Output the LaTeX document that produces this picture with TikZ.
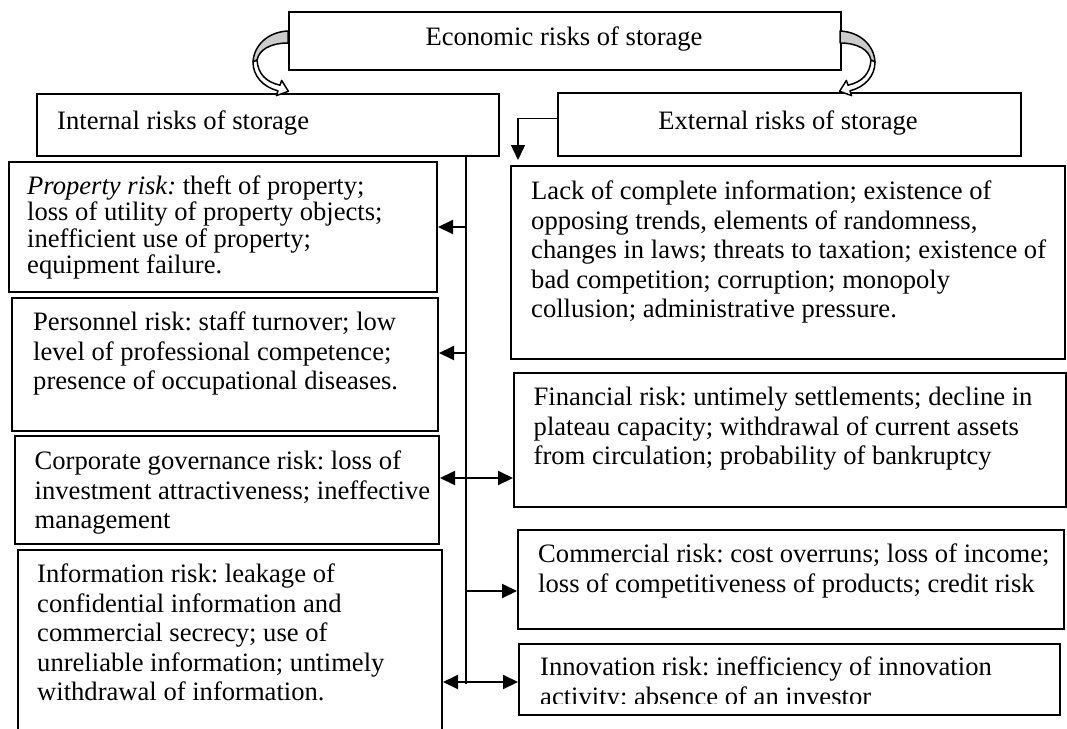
\documentclass[tikz,border=0pt]{standalone}
\usepackage{fontspec}
\setmainfont{Liberation Serif}
\usetikzlibrary{arrows.meta}
\newcommand{\topstrut}{\rule{0pt}{18pt}}
\begin{document}
\frenchspacing
\begin{tikzpicture}[x=1pt,y=-1pt,
  box/.style={draw, line width=2pt, inner sep=0pt, anchor=north west},
  title/.style={inner sep=0pt, font=\fontsize{26.6}{29.5}\selectfont},
  txt/.style={anchor=north west, inner sep=0pt, align=left, font=\fontsize{26.6}{29.5}\selectfont},
  conn/.style={line width=2pt},
  tip/.style={-{Triangle[length=15pt,width=14pt]}},
  dtip/.style={{Triangle[length=15pt,width=14pt]}-{Triangle[length=15pt,width=14pt]}},
  curlarrow/.pic={
    \filldraw[fill=black!20, line width=1.5pt, line join=round]
      (0,31) .. controls (-20,32) and (-34,45) .. (-35,62) -- (-31,60)
      .. controls (-29,50) and (-18,43) .. (0,43) -- cycle;
    \filldraw[fill=white, line width=1.5pt, line join=round]
      (-35,62) .. controls (-35,76) and (-25,87) .. (-10,90.8)
      -- (-11.6,95.6) -- (0.4,91.3) -- (-6.4,80.4) -- (-8,85.2)
      .. controls (-22,82) and (-30,74) .. (-31,60) -- cycle;
  }]
\useasboundingbox (0,0) rectangle (1067,728);

% frames
\node[box, minimum width=552pt, minimum height=58pt]  (econ)  at (288,11)  {};
\node[box, minimum width=462pt, minimum height=62pt]  (intr)  at (36,93)   {};
\node[box, minimum width=463pt, minimum height=63pt]  (extr)  at (557,92)  {};
\node[box, minimum width=428pt, minimum height=130pt] (prop)  at (8,161)   {};
\node[box, minimum width=426pt, minimum height=133pt] (pers)  at (11,297)  {};
\node[box, minimum width=424pt, minimum height=108pt] (corp)  at (14,435)  {};
\node[box, minimum width=424pt, minimum height=185pt] (info)  at (17,549)  {};
\node[box, minimum width=554pt, minimum height=193pt] (lack)  at (510,165) {};
\node[box, minimum width=552pt, minimum height=134pt] (fin)   at (513,372) {};
\node[box, minimum width=546pt, minimum height=99pt]  (comm)  at (517,529) {};
\node[box, minimum width=541pt, minimum height=71pt]  (innov) at (518,643) {};

% headings
\node[title, anchor=base]      (econT) at (564,45)  {Economic risks of storage};
\node[title, anchor=base west] (intrT) at (57,129)  {Internal risks of storage};
\node[title, anchor=base]      (extrT) at (788,129) {External risks of storage};

% contents
\node[txt, font=\fontsize{26.6}{26.3}\selectfont] (propT) at (27,175.7)
  {\topstrut\textit{Property risk:} theft of property;\\
   loss of utility of property objects;\\
   inefficient use of property;\\
   equipment failure.};
\node[txt] (persT) at (33,312)
  {\topstrut Personnel risk: staff turnover; low\\
   level of professional competence;\\
   presence of occupational diseases.};
\node[txt] (corpT) at (34.5,450.7)
  {\topstrut Corporate governance risk: loss of\\
   investment attractiveness; ineffective\\
   management};
\node[txt] (infoT) at (37,564)
  {\topstrut Information risk: leakage of\\
   confidential information and\\
   commercial secrecy; use of\\
   unreliable information; untimely\\
   withdrawal of information.};
\node[txt] (lackT) at (531,180.7)
  {\topstrut Lack of complete information; existence of\\
   opposing trends, elements of randomness,\\
   changes in laws; threats to taxation; existence of\\
   bad competition; corruption; monopoly\\
   collusion; administrative pressure.};
\node[txt] (finT) at (533.5,387.3)
  {\topstrut Financial risk: untimely settlements; decline in\\
   plateau capacity; withdrawal of current assets\\
   from circulation; probability of bankruptcy};
\node[txt] (commT) at (538,544)
  {\topstrut Commercial risk: cost overruns; loss of income;\\
   loss of competitiveness of products; credit risk};
\begin{scope}
  \clip (518,643) rectangle (1059,703);
  \node[txt] (innovT) at (540,657)
    {\topstrut Innovation risk: inefficiency of innovation\\
     activity; absence of an investor};
\end{scope}

% curved arrows from the main heading
\pic at (288,0) {curlarrow};
\pic[xscale=-1] at (840,0) {curlarrow};

% connectors
\coordinate (tx) at (466,0);
\coordinate (trunkEnd) at (466,684);
\coordinate (yprop) at (0,227);
\coordinate (ypers) at (0,353);
\coordinate (ycorp) at (0,478);
\coordinate (ycomm) at (0,591);
\coordinate (yinfo) at (0,682);
\coordinate (elbow) at (518,118);

\draw[conn] (intr.south -| tx) -- (trunkEnd);
\draw[conn, tip] (tx |- yprop) -- (prop.east |- yprop);
\draw[conn, tip] (tx |- ypers) -- (pers.east |- ypers);
\draw[conn, dtip] (corp.east |- ycorp) -- (fin.west |- ycorp);
\draw[conn, tip] (tx |- ycomm) -- (comm.west |- ycomm);
\draw[conn, dtip] (info.east |- yinfo) -- (innov.west |- yinfo);
\draw[line width=1pt] (extr.west |- elbow) -- (elbow);
\draw[line width=1.5pt, -{Triangle[length=15pt,width=14pt]}, shorten >=5pt]
  (elbow) -- (elbow |- lack.north);
\end{tikzpicture}
\end{document}
